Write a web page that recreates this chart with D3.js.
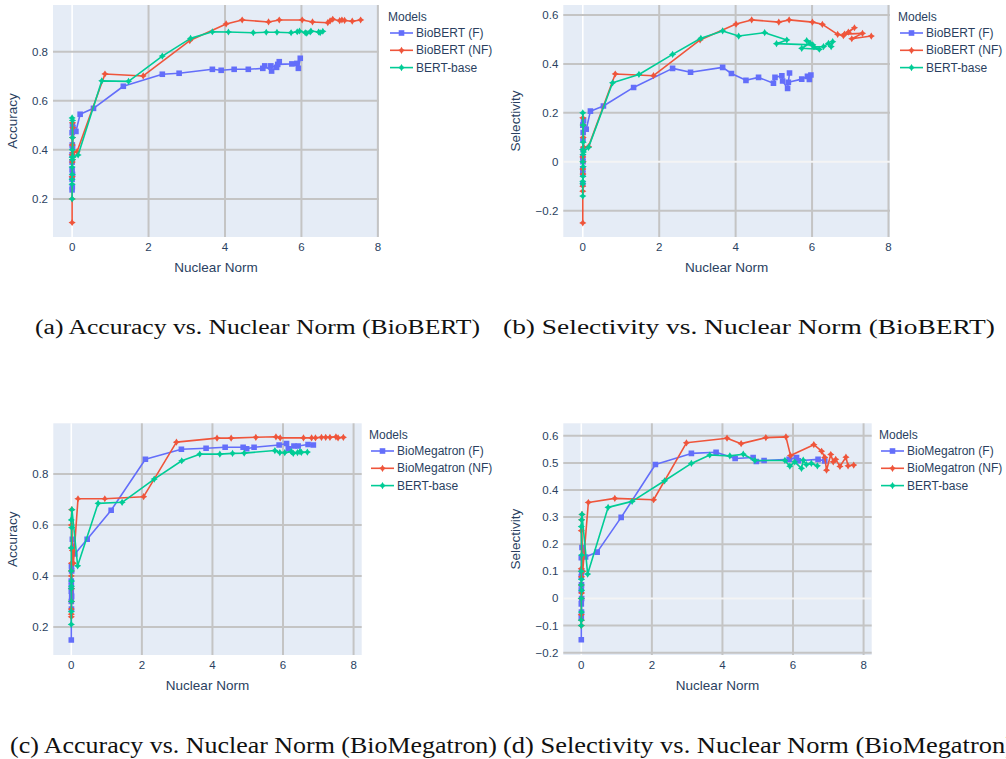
<!DOCTYPE html>
<html>
<head>
<meta charset="utf-8">
<script src="https://cdn.jsdelivr.net/npm/d3@7"></script>
<style>
  body { margin: 0; background: #fff; }
  svg { display: block; }
</style>
</head>
<body>
<svg id="fig" width="1006" height="759"></svg>
<script>
// ---------- data: [nuclear norm, metric] per probe ----------
// BioBERT, accuracy
const bioBertAccF = [[0,0.237],[0,0.28],[0.005,0.25],[0,0.32],[0.01,0.30],[0,0.35],[0.005,0.42],[0,0.38],[0.01,0.41],[0,0.47],[0.01,0.50],[0.02,0.49],[0.10,0.475],[0.21,0.545],[0.56,0.569],[1.34,0.659],[2.36,0.708],[2.80,0.712],[3.67,0.728],[3.90,0.724],[4.24,0.728],[4.61,0.728],[4.99,0.732],[5.04,0.742],[5.22,0.721],[5.20,0.742],[5.35,0.736],[5.42,0.759],[5.38,0.748],[5.75,0.750],[5.88,0.752],[5.92,0.732],[5.97,0.773]];
const bioBertAccNF = [[0,0.104],[0,0.20],[0.005,0.35],[0,0.29],[0.01,0.45],[0,0.38],[0.01,0.51],[0.005,0.42],[0.02,0.49],[0.01,0.36],[0.03,0.39],[0.13,0.393],[0.86,0.709],[1.86,0.701],[3.08,0.845],[4.03,0.913],[4.45,0.929],[5.14,0.921],[5.42,0.929],[6.02,0.929],[6.29,0.921],[6.69,0.918],[6.75,0.925],[6.82,0.932],[7.00,0.926],[7.06,0.929],[7.13,0.927],[7.33,0.924],[7.55,0.929]];
const baseAccBioBert = [[0,0.20],[0,0.26],[0.005,0.30],[0,0.28],[0.01,0.36],[0,0.33],[0.005,0.40],[0,0.37],[0.01,0.45],[0,0.53],[0.01,0.52],[0.02,0.37],[0.157,0.379],[0.777,0.681],[1.476,0.679],[2.36,0.782],[3.10,0.854],[3.67,0.881],[4.09,0.880],[4.74,0.877],[5.08,0.879],[5.36,0.879],[5.73,0.877],[5.89,0.881],[5.95,0.884],[6.10,0.877],[6.14,0.875],[6.23,0.880],[6.25,0.884],[6.45,0.880],[6.49,0.877],[6.56,0.883]];

// BioBERT, selectivity
const bioBertSelF = [[0,-0.09],[0,-0.05],[0.005,0.0],[0,-0.03],[0.01,0.05],[0,0.02],[0.005,0.09],[0,0.15],[0.01,0.12],[0.02,0.17],[0.09,0.133],[0.20,0.207],[0.54,0.228],[1.33,0.304],[2.35,0.382],[2.82,0.366],[3.66,0.386],[3.89,0.361],[4.27,0.333],[4.60,0.345],[4.99,0.321],[5.03,0.345],[5.21,0.352],[5.23,0.330],[5.36,0.300],[5.41,0.363],[5.38,0.325],[5.73,0.338],[5.88,0.349],[5.93,0.337],[5.97,0.355]];
const bioBertSelNF = [[0,-0.25],[0,-0.12],[0.005,-0.05],[0,-0.10],[0.01,0.0],[0,-0.03],[0.005,0.05],[0,0.02],[0.01,0.10],[0,0.18],[0.01,0.15],[0.02,0.06],[0.15,0.062],[0.85,0.359],[1.85,0.352],[3.07,0.498],[4.01,0.563],[4.42,0.580],[5.13,0.571],[5.40,0.580],[6.01,0.571],[6.27,0.562],[6.67,0.521],[6.82,0.516],[6.95,0.530],[7.11,0.548],[6.85,0.522],[7.32,0.525],[7.04,0.503],[7.55,0.514]];
const baseSelBioBert = [[0,-0.14],[0,-0.09],[0.005,-0.06],[0,-0.08],[0.01,-0.02],[0,0.0],[0.005,0.03],[0,0.05],[0.01,0.08],[0,0.20],[0.01,0.15],[0.02,0.04],[0.15,0.059],[0.78,0.323],[1.47,0.357],[2.35,0.439],[3.09,0.505],[3.66,0.535],[4.08,0.514],[4.76,0.528],[5.34,0.498],[5.07,0.483],[6.02,0.478],[5.86,0.495],[5.95,0.485],[5.73,0.464],[6.19,0.460],[6.05,0.470],[6.30,0.471],[6.43,0.484],[6.50,0.471],[6.54,0.491]];

// BioMegatron, accuracy
const megAccF = [[0,0.149],[0,0.30],[0.005,0.27],[0,0.34],[0.01,0.32],[0,0.38],[0.005,0.44],[0,0.36],[0.01,0.42],[0.03,0.544],[0.10,0.486],[0.45,0.544],[1.13,0.658],[2.10,0.858],[3.12,0.897],[3.82,0.901],[4.36,0.905],[4.87,0.905],[4.97,0.899],[5.18,0.905],[5.89,0.914],[6.10,0.920],[6.15,0.899],[6.31,0.910],[6.43,0.910],[6.71,0.916],[6.86,0.914]];
const megAccNF = [[0,0.24],[0,0.27],[0.005,0.30],[0,0.25],[0.01,0.35],[0,0.40],[0.005,0.45],[0,0.42],[0.01,0.51],[0,0.60],[0.01,0.66],[0.03,0.50],[0.06,0.45],[0.19,0.703],[0.95,0.703],[2.05,0.711],[2.98,0.925],[4.13,0.941],[4.53,0.941],[5.23,0.944],[5.80,0.946],[5.92,0.942],[6.58,0.942],[6.81,0.942],[6.92,0.942],[7.09,0.944],[7.21,0.944],[7.33,0.944],[7.50,0.946],[7.56,0.942],[7.71,0.944]];
const baseAccMeg = [[0,0.21],[0,0.26],[0.005,0.30],[0,0.35],[0.01,0.38],[0,0.42],[0.005,0.36],[0,0.51],[0.01,0.59],[0,0.62],[0.02,0.66],[0.18,0.44],[0.76,0.685],[1.44,0.689],[2.35,0.780],[3.13,0.852],[3.64,0.878],[4.21,0.878],[4.57,0.881],[4.90,0.882],[5.77,0.892],[5.91,0.884],[6.05,0.884],[6.24,0.888],[6.29,0.881],[6.41,0.884],[6.48,0.888],[6.52,0.885],[6.69,0.886]];

// BioMegatron, selectivity
const megSelF = [[0,-0.152],[0,-0.07],[0.005,-0.05],[0,-0.02],[0.01,0.0],[0,0.03],[0.005,0.05],[0,0.08],[0.01,0.10],[0,0.15],[0.02,0.188],[0.12,0.153],[0.45,0.171],[1.13,0.299],[2.10,0.494],[3.12,0.535],[3.82,0.539],[4.36,0.516],[4.87,0.520],[4.96,0.505],[5.18,0.509],[5.89,0.513],[6.10,0.520],[6.15,0.508],[6.71,0.513],[6.90,0.507]];
const megSelNF = [[0,-0.10],[0,-0.06],[0.005,-0.08],[0,0.0],[0.01,0.02],[0,0.05],[0.005,0.08],[0,0.11],[0.01,0.10],[0,0.25],[0.02,0.31],[0.01,0.29],[0.04,0.10],[0.20,0.354],[0.95,0.369],[2.05,0.364],[2.98,0.574],[4.13,0.591],[4.53,0.571],[5.23,0.593],[5.80,0.596],[5.93,0.527],[6.59,0.567],[6.81,0.543],[6.90,0.520],[6.95,0.473],[7.07,0.531],[7.14,0.504],[7.21,0.513],[7.33,0.487],[7.50,0.521],[7.56,0.489],[7.72,0.492]];
const baseSelMeg = [[0,-0.10],[0,-0.08],[0.005,-0.05],[0,0.0],[0.01,0.03],[0,0.05],[0.005,0.07],[0,0.10],[0.01,0.16],[0,0.265],[0.01,0.29],[0.02,0.31],[0.18,0.09],[0.76,0.336],[1.44,0.358],[2.36,0.434],[3.12,0.498],[3.64,0.529],[4.21,0.526],[4.59,0.532],[4.92,0.509],[5.77,0.509],[5.91,0.488],[6.05,0.504],[6.24,0.480],[6.29,0.510],[6.38,0.494],[6.52,0.498],[6.69,0.489]];

// ---------- axis ticks ----------
const xTicks = [0, 2, 4, 6, 8];
const accTicksBioBert = [0.2, 0.4, 0.6, 0.8];
const selTicksBioBert = [-0.2, 0, 0.2, 0.4, 0.6];
const accTicksMeg = [0.2, 0.4, 0.6, 0.8];
const selTicksMeg = [-0.2, -0.1, 0, 0.1, 0.2, 0.3, 0.4, 0.5, 0.6];

// ---------- series names ----------
const bioBertNames = ["BioBERT (F)", "BioBERT (NF)", "BERT-base"];
const megNames = ["BioMegatron (F)", "BioMegatron (NF)", "BERT-base"];
const captions = [
  "(a) Accuracy vs. Nuclear Norm (BioBERT)",
  "(b) Selectivity vs. Nuclear Norm (BioBERT)",
  "(c) Accuracy vs. Nuclear Norm (BioMegatron)",
  "(d) Selectivity vs. Nuclear Norm (BioMegatron)"
];

// ---------- styling ----------
const colors = ["#636efa", "#ef553b", "#00cc96"];
const symbols = ["square", "star4", "star4"];
const FONT = "'Liberation Sans', Arial, sans-serif";
const SERIF = "'Liberation Serif', 'DejaVu Serif', serif";
const TEXT = "#2a3f5f";

const svg = d3.select("#fig");

// four-pointed star marker
function star4(r) {
  const w = r * 0.38;
  return `M0,${-r}L${w},${-w}L${r},0L${w},${w}L0,${r}L${-w},${w}L${-r},0L${-w},${-w}Z`;
}
function markerPath(kind) {
  if (kind === "square") return "M-2.8,-2.8H2.8V2.8H-2.8Z";
  return star4(3.6);
}
function fmt(v) {
  if (v === 0) return "0";
  const s = d3.format("~g")(Math.abs(v));
  return (v < 0 ? "\u2212" : "") + s;
}

function drawPanel(cfg, idx) {
  const g = svg.append("g");
  const x = d3.scaleLinear().domain(cfg.xDomain).range([cfg.left, cfg.right]);
  const y = d3.scaleLinear().domain(cfg.yDomain).range([cfg.bottom, cfg.top]);

  // plot background
  g.append("rect")
    .attr("x", cfg.left).attr("y", cfg.top)
    .attr("width", cfg.right - cfg.left).attr("height", cfg.bottom - cfg.top)
    .attr("fill", "#e5ecf6");

  // grid
  g.selectAll(".gx").data(xTicks).enter().append("line")
    .attr("x1", d => x(d)).attr("x2", d => x(d))
    .attr("y1", cfg.top).attr("y2", cfg.bottom)
    .attr("stroke", d => d === 0 ? "#ffffff" : "#c4c4c4")
    .attr("stroke-width", d => d === 0 ? 1.6 : 2);
  g.selectAll(".gy").data(cfg.yTicks).enter().append("line")
    .attr("x1", cfg.left).attr("x2", cfg.right)
    .attr("y1", d => y(d)).attr("y2", d => y(d))
    .attr("stroke", d => d === 0 ? "#f4f4f4" : "#c4c4c4")
    .attr("stroke-width", 2);

  // tick labels
  g.selectAll(".tx").data(xTicks).enter().append("text")
    .attr("x", d => x(d)).attr("y", cfg.bottom + 14)
    .attr("text-anchor", "middle")
    .attr("font-family", FONT).attr("font-size", 11.5).attr("fill", TEXT)
    .text(d => fmt(d));
  g.selectAll(".ty").data(cfg.yTicks).enter().append("text")
    .attr("x", cfg.left - 5).attr("y", d => y(d) + 4)
    .attr("text-anchor", "end")
    .attr("font-family", FONT).attr("font-size", 11.5).attr("fill", TEXT)
    .text(d => fmt(d));

  // axis titles
  g.append("text")
    .attr("x", (cfg.left + cfg.right) / 2).attr("y", cfg.bottom + 35)
    .attr("text-anchor", "middle")
    .attr("font-family", FONT).attr("font-size", 13.5).attr("fill", TEXT)
    .text("Nuclear Norm");
  g.append("text")
    .attr("transform", `translate(${cfg.yTitleX},${(cfg.top + cfg.bottom) / 2}) rotate(-90)`)
    .attr("text-anchor", "middle")
    .attr("font-family", FONT).attr("font-size", 13.5).attr("fill", TEXT)
    .text(cfg.yTitle);

  // traces
  const clipId = "clip" + idx;
  g.append("clipPath").attr("id", clipId).append("rect")
    .attr("x", cfg.left).attr("y", cfg.top)
    .attr("width", cfg.right - cfg.left).attr("height", cfg.bottom - cfg.top);
  const plot = g.append("g").attr("clip-path", `url(#${clipId})`);
  const line = d3.line().x(d => x(d[0])).y(d => y(d[1]));
  cfg.series.forEach((s, i) => {
    const sg = plot.append("g");
    sg.append("path").datum(s)
      .attr("d", line).attr("fill", "none")
      .attr("stroke", colors[i]).attr("stroke-width", 1.6)
      .attr("stroke-linejoin", "round");
    sg.selectAll("path.m").data(s).enter().append("path")
      .attr("class", "m")
      .attr("transform", d => `translate(${x(d[0])},${y(d[1])})`)
      .attr("d", markerPath(symbols[i]))
      .attr("fill", colors[i]);
  });

  // legend
  const lg = g.append("g").attr("transform", `translate(${cfg.legendX},${cfg.legendY})`);
  lg.append("text").attr("x", 0).attr("y", 0)
    .attr("font-family", FONT).attr("font-size", 12).attr("fill", TEXT)
    .text("Models");
  cfg.names.forEach((n, i) => {
    const yy = 12 + i * 17.3;
    lg.append("line").attr("x1", 2).attr("x2", 25).attr("y1", yy).attr("y2", yy)
      .attr("stroke", colors[i]).attr("stroke-width", 1.6);
    lg.append("path").attr("transform", `translate(13.5,${yy})`)
      .attr("d", markerPath(symbols[i])).attr("fill", colors[i]);
    lg.append("text").attr("x", 28).attr("y", yy + 4)
      .attr("font-family", FONT).attr("font-size", 12).attr("fill", TEXT)
      .text(n);
  });

  // caption
  svg.append("text")
    .attr("x", cfg.capX).attr("y", cfg.capY)
    .attr("font-family", SERIF).attr("font-size", cfg.capSize).attr("fill", "#111")
    .attr("textLength", cfg.capLen).attr("lengthAdjust", "spacingAndGlyphs")
    .text(cfg.caption);
}

const panels = [
  { left: 53, right: 379, top: 5, bottom: 237, xDomain: [-0.5, 8.03], yDomain: [0.045, 0.99],
    yTicks: accTicksBioBert, yTitle: "Accuracy", yTitleX: 16.5, series: [bioBertAccF, bioBertAccNF, baseAccBioBert],
    names: bioBertNames, legendX: 388, legendY: 21,
    caption: captions[0], capX: 35, capY: 334, capSize: 20, capLen: 445 },
  { left: 563.3, right: 890, top: 5, bottom: 237, xDomain: [-0.51, 8.04], yDomain: [-0.3075, 0.641],
    yTicks: selTicksBioBert, yTitle: "Selectivity", yTitleX: 520, series: [bioBertSelF, bioBertSelNF, baseSelBioBert],
    names: bioBertNames, legendX: 898, legendY: 21,
    caption: captions[1], capX: 503, capY: 334, capSize: 20, capLen: 492 },
  { left: 53.3, right: 361.7, top: 423.3, bottom: 655, xDomain: [-0.51, 8.23], yDomain: [0.09, 0.999],
    yTicks: accTicksMeg, yTitle: "Accuracy", yTitleX: 16.5, series: [megAccF, megAccNF, baseAccMeg],
    names: megNames, legendX: 369, legendY: 439,
    caption: captions[2], capX: 10, capY: 753, capSize: 23, capLen: 487 },
  { left: 563.3, right: 871.7, top: 423.3, bottom: 655, xDomain: [-0.51, 8.23], yDomain: [-0.2085, 0.646],
    yTicks: selTicksMeg, yTitle: "Selectivity", yTitleX: 520, series: [megSelF, megSelNF, baseSelMeg],
    names: megNames, legendX: 879, legendY: 439,
    caption: captions[3], capX: 503, capY: 753, capSize: 23, capLen: 511 }
];

panels.forEach(drawPanel);
</script>
</body>
</html>
